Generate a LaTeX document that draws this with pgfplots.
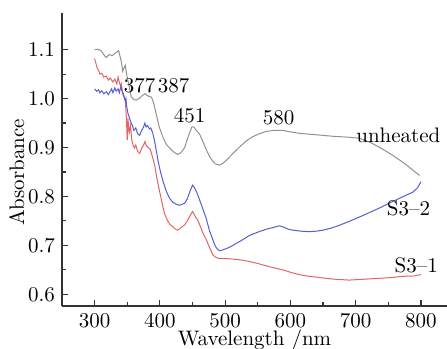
\documentclass[border=0pt]{standalone}
\usepackage{pgfplots}
\pgfplotsset{compat=1.18}
\definecolor{cgray}{RGB}{145,145,145}
\definecolor{cred}{RGB}{228,100,100}
\definecolor{cblue}{RGB}{85,95,210}
\begin{document}
\begin{tikzpicture}[font=\fontsize{10.5}{12.5}\selectfont]
\begin{axis}[
  scale only axis, width=192.5pt, height=146.5pt,
  xmin=250, xmax=840, ymin=0.576, ymax=1.175,
  axis lines=left, axis line style={-, line width=0.6pt, black!80},
  tick align=inside, major tick length=3pt, minor tick length=2pt,
  tick style={line width=0.6pt, black!80},
  xtick={300,400,...,800}, ytick={0.6,0.7,...,1.1},
  minor tick num=1,
  /pgf/number format/assume math mode=true,
  yticklabel style={/pgf/number format/fixed, /pgf/number format/precision=1, /pgf/number format/fixed zerofill},
  xlabel={Wavelength /nm}, ylabel={Absorbance},
  xlabel style={yshift=6pt},
  ylabel style={at={(ticklabel cs:0.456)}, yshift=-5pt},
  clip=false,
]
\coordinate (SW) at (rel axis cs:0,0);
\coordinate (NE) at (rel axis cs:1,1);
\addplot[cgray, line width=0.5pt] coordinates {
(300,1.100)(305,1.101)(310,1.098)(315,1.088)(318,1.084)(322,1.090)(327,1.088)(331,1.092)(335,1.096)(337,1.098)
(339,1.086)(341,1.075)(343,1.056)(345,1.062)(347,1.068)(349,1.050)(351,1.037)(354,1.018)(356,1.004)(360,0.998)
(364,0.997)(368,1.000)(372,1.005)(377,1.010)(381,1.006)(384,1.004)(387,1.003)(390,0.993)(395,0.965)(399,0.942)
(405,0.920)(410,0.906)(415,0.899)(421,0.891)(427,0.886)(432,0.889)(438,0.900)(444,0.925)(449,0.942)(452,0.942)
(456,0.935)(461,0.927)(466,0.912)(471,0.896)(476,0.882)(481,0.872)(486,0.866)(491,0.864)(496,0.867)(502,0.874)
(512,0.888)(522,0.901)(532,0.913)(542,0.922)(552,0.928)(563,0.933)(575,0.935)(588,0.935)(600,0.932)(614,0.929)
(640,0.926)(665,0.923)(690,0.921)(705,0.919)(716,0.914)(726,0.908)(741,0.897)(757,0.884)(770,0.872)(782,0.860)
(790,0.851)(798,0.843)
};
\addplot[cred, line width=0.5pt] coordinates {
(300,1.082)(302,1.072)(304,1.062)(306,1.058)(308,1.050)(311,1.052)(314,1.044)(318,1.046)(321,1.038)(324,1.042)
(328,1.034)(331,1.040)(334,1.030)(336,1.044)(338,1.032)(340,1.025)(341,1.030)(343,1.010)(345,1.002)(347,0.997)
(348,0.975)(349,0.950)(350,0.915)(351,0.960)(353,0.930)(355,0.945)(357,0.915)(359,0.905)(361,0.899)(363,0.905)
(366,0.892)(369,0.888)(372,0.898)(375,0.905)(377,0.912)(379,0.904)(382,0.900)(385,0.897)(388,0.884)(392,0.864)
(395,0.840)(398,0.820)(402,0.795)(407,0.765)(412,0.750)(416,0.742)(420,0.738)(424,0.733)(427,0.731)(431,0.735)
(435,0.739)(438,0.742)(442,0.750)(446,0.760)(450,0.769)(452,0.765)(455,0.757)(458,0.752)(461,0.742)(466,0.725)
(471,0.712)(476,0.696)(481,0.681)(485,0.676)(491,0.673)(500,0.673)(512,0.672)(525,0.670)(537,0.667)(550,0.663)
(563,0.658)(575,0.654)(588,0.650)(600,0.645)(614,0.640)(627,0.637)(640,0.635)(652,0.633)(665,0.631)(678,0.630)
(690,0.629)(703,0.630)(716,0.631)(728,0.632)(741,0.633)(754,0.634)(767,0.636)(778,0.637)(788,0.637)(795,0.639)
(800,0.640)
};
\addplot[cblue, line width=0.5pt] coordinates {
(300,1.020)(303,1.015)(306,1.018)(308,1.012)(311,1.016)(314,1.010)(318,1.014)(321,1.008)(324,1.015)(326,1.020)
(328,1.012)(331,1.022)(333,1.015)(336,1.020)(338,1.012)(340,1.024)(342,1.016)(344,1.010)(346,1.000)(347,0.995)
(348,1.000)(349,0.985)(351,0.970)(353,0.962)(356,0.950)(358,0.945)(360,0.935)(363,0.940)(366,0.928)(369,0.925)
(372,0.935)(375,0.942)(377,0.950)(379,0.942)(381,0.945)(384,0.938)(386,0.940)(389,0.930)(392,0.912)(395,0.890)
(397,0.874)(401,0.850)(405,0.830)(410,0.810)(415,0.796)(420,0.788)(425,0.784)(430,0.782)(434,0.784)(438,0.786)
(442,0.795)(446,0.810)(450,0.823)(453,0.818)(456,0.810)(459,0.800)(463,0.785)(467,0.770)(471,0.755)(476,0.730)
(481,0.712)(485,0.698)(489,0.691)(492,0.689)(497,0.691)(503,0.694)(512,0.700)(525,0.710)(537,0.720)(550,0.727)
(563,0.733)(575,0.737)(583,0.740)(590,0.737)(597,0.733)(604,0.731)(616,0.729)(629,0.728)(640,0.729)(650,0.731)
(662,0.735)(675,0.741)(690,0.749)(706,0.758)(721,0.767)(736,0.776)(751,0.786)(767,0.796)(778,0.803)(788,0.809)
(795,0.818)(800,0.830)
};
\node at (axis cs:369,1.027) {377};
\node at (axis cs:421,1.027) {387};
\node at (axis cs:445.5,0.966) {451};
\node at (axis cs:582,0.960) {580};
\node at (axis cs:765.5,0.925) {unheated};
\node at (axis cs:781,0.776) {S3--2};
\node at (axis cs:793,0.660) {S3--1};
\end{axis}
\pgfresetboundingbox
\path[use as bounding box] ([shift={(-31pt,-21pt)}]SW) rectangle ([shift={(0pt,6.5pt)}]NE);
\end{tikzpicture}
\end{document}
